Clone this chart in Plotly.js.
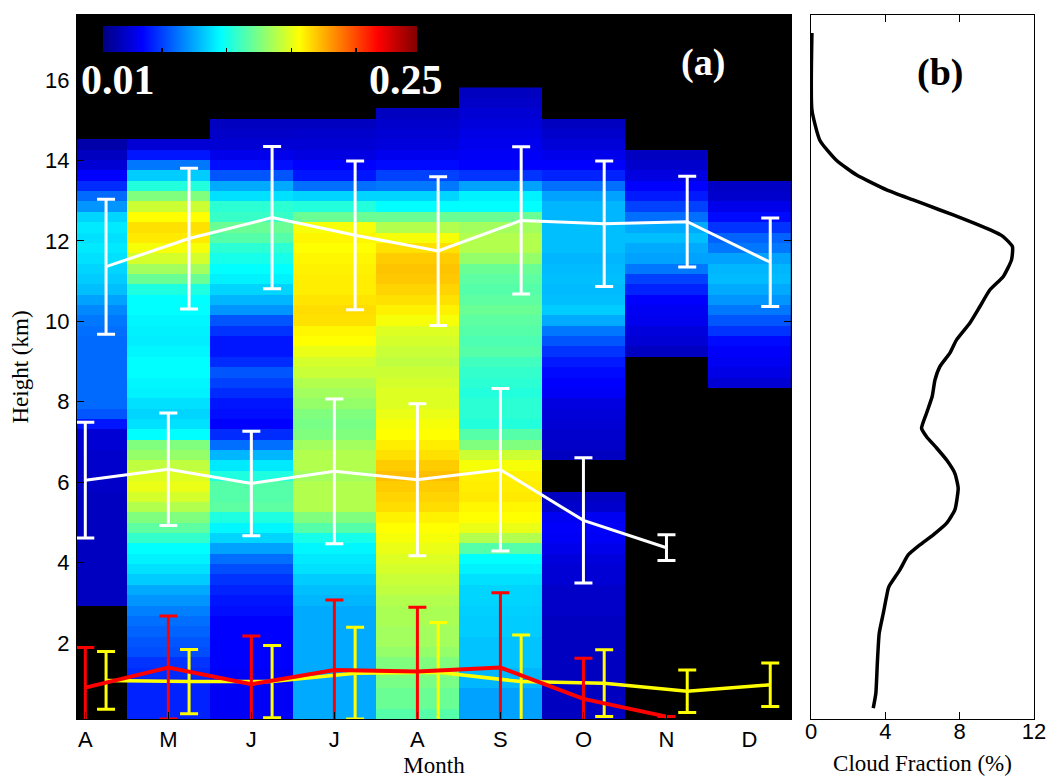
<!DOCTYPE html>
<html>
<head>
<meta charset="utf-8">
<script src="https://cdn.plot.ly/plotly-3.0.1.min.js"></script>
<style>html,body{margin:0;padding:0;background:#fff;}#chart{width:1054px;height:782px;}</style>
</head>
<body>
<div id="chart"></div>
<script>
// ---------- Panel (a): monthly cloud-fraction profiles ----------
const monthLabels = ['A','M','J','J','A','S','O','N','D'];
const monthIdx = [0,1,2,3,4,5,6,7,8];

// height bins (km): lowest bin bottom and bin depth
const binBottom = 0.11;
const binDepth = 0.2575;
const nBins = 61;

// cloud fraction per height bin (index 0 = lowest bin), null = no data
const cfApr = [null,null,null,null,null,null,null,null,null,null,null,
  0.025,0.025,0.025,0.025,0.025,0.025,0.025,0.025,0.025,
  0.025,0.025,0.027,0.027,0.028,0.028,0.03,0.03,
  0.045,0.06,0.065,0.065,0.065,0.065,0.065,0.065,0.065,0.066,0.068,0.072,
  0.078,0.085,0.088,0.09,0.093,0.095,0.093,0.095,0.09,0.075,0.065,0.05,0.04,0.03,0.025,0.02,
  null,null,null,null,null];
const cfMay = [0.048,0.048,0.048,0.048,0.05,0.052,0.058,0.06,0.063,0.066,
  0.07,0.075,0.08,0.088,0.093,0.097,0.1,0.112,0.122,0.13,
  0.142,0.15,0.155,0.152,0.145,0.135,0.13,0.1,0.093,0.09,
  0.093,0.097,0.098,0.1,0.1,0.098,0.096,0.097,0.098,0.1,
  0.1,0.107,0.125,0.138,0.15,0.158,0.165,0.167,0.16,0.148,
  0.13,0.108,0.088,0.068,0.045,0.03,null,null,null,null,null];
const cfJun = [0.038,0.038,0.038,0.038,0.038,0.04,0.04,0.04,0.04,0.04,
  0.043,0.045,0.048,0.052,0.058,0.066,0.078,0.09,0.098,0.107,
  0.122,0.12,0.12,0.107,0.095,0.083,0.066,0.05,0.04,0.043,
  0.045,0.05,0.055,0.06,0.05,0.045,0.045,0.052,0.06,0.075,
  0.083,0.09,0.097,0.1,0.105,0.11,0.12,0.125,0.113,0.11,
  0.093,0.08,0.06,0.043,0.035,0.03,0.027,0.025,null,null,null];
const cfJul = [0.08,0.08,0.08,0.08,0.08,0.08,0.08,0.08,0.08,0.08,
  0.08,0.083,0.085,0.088,0.093,0.095,0.098,0.105,0.12,0.13,
  0.142,0.142,0.142,0.138,0.142,0.142,0.138,0.13,0.128,0.13,
  0.135,0.138,0.142,0.147,0.15,0.155,0.16,0.162,0.167,0.168,
  0.166,0.164,0.164,0.163,0.162,0.16,0.162,0.158,0.125,0.108,
  0.09,0.066,0.045,0.04,0.033,0.03,0.028,0.025,null,null,null];
const cfAug = [0.12,0.125,0.125,0.128,0.13,0.13,0.135,0.138,0.138,0.14,
  0.14,0.142,0.145,0.147,0.15,0.152,0.155,0.158,0.16,0.163,
  0.168,0.17,0.172,0.175,0.172,0.167,0.164,0.16,0.158,0.155,
  0.152,0.152,0.15,0.148,0.145,0.147,0.15,0.152,0.158,0.163,
  0.167,0.17,0.173,0.174,0.172,0.167,0.158,0.142,0.125,0.1,
  0.09,0.068,0.055,0.042,0.036,0.032,0.03,0.028,0.025,null,null];
const cfSep = [0.078,0.078,0.078,0.083,0.083,0.086,0.086,0.086,0.088,0.088,
  0.089,0.09,0.09,0.093,0.097,0.1,0.12,0.142,0.155,0.16,
  0.162,0.165,0.164,0.163,0.158,0.148,0.13,0.12,0.108,0.11,
  0.11,0.108,0.11,0.112,0.115,0.12,0.118,0.12,0.122,0.125,
  0.122,0.12,0.122,0.125,0.135,0.142,0.142,0.138,0.125,0.1,
  0.097,0.078,0.052,0.04,0.038,0.036,0.034,0.032,0.03,0.027,0.025];
const cfOct = [0.025,0.025,0.025,0.025,0.025,0.025,0.025,0.025,0.025,0.025,
  0.027,0.027,0.027,0.03,0.03,0.032,0.035,0.038,0.039,0.037,
  0.028,0.025,null,null,null,0.025,0.027,0.028,0.03,0.031,
  0.033,0.038,0.04,0.042,0.046,0.052,0.06,0.068,0.08,0.088,
  0.085,0.084,0.085,0.084,0.083,0.085,0.085,0.085,0.083,0.083,
  0.078,0.066,0.048,0.04,0.035,0.031,0.028,0.025,null,null,null];
const cfNov = [null,null,null,null,null,null,null,null,null,null,
  null,null,null,null,null,null,null,null,null,null,
  null,null,null,null,null,null,null,null,null,null,
  null,null,null,null,null,0.025,0.03,0.032,0.036,0.037,
  0.04,0.048,0.055,0.068,0.078,0.08,0.085,0.08,0.066,0.055,
  0.046,0.04,0.033,0.028,0.025,null,null,null,null,null,null];
const cfDec = [null,null,null,null,null,null,null,null,null,null,
  null,null,null,null,null,null,null,null,null,null,
  null,null,null,null,null,null,null,null,null,null,
  null,null,0.03,0.034,0.037,0.039,0.042,0.052,0.06,0.068,
  0.075,0.08,0.084,0.083,0.078,0.068,0.063,0.052,0.042,0.035,
  0.028,0.026,null,null,null,null,null,null,null,null,null];

// layer heights (km) with standard deviations
const upperX = [0.25,1.25,2.25,3.25,4.25,5.25,6.25,7.25,8.25];
const upperH = [11.36,12.06,12.58,12.14,11.75,12.51,12.43,12.48,11.47];
const upperSD = [1.68,1.75,1.77,1.85,1.85,1.83,1.56,1.13,1.10];
const middleX = [0,1,2,3,4,5,6,7];
const middleH = [6.05,6.32,5.97,6.27,6.06,6.31,5.05,4.37];
const middleSD = [1.44,1.40,1.30,1.80,1.89,2.02,1.56,0.32];
const lowYellowX = [0.25,1.25,2.25,3.25,4.25,5.25,6.25,7.25,8.25];
const lowYellowH = [1.07,1.04,1.04,1.25,1.27,1.04,1.00,0.80,0.96];
const lowYellowSD = [0.72,0.80,0.90,1.14,1.24,1.16,0.83,0.53,0.54];
const lowRedX = [0,1,2,3,4,5,6,7];
const lowRedH = [0.89,1.39,0.975,1.33,1.29,1.39,0.61,0.17];
const lowRedSD = [1.00,1.28,1.20,1.74,1.60,1.86,1.01,0];

// ---------- Panel (b): mean cloud-fraction profile ----------
const profHeight = [0.38,0.75,1.50,2.24,2.74,3.36,3.45,3.82,4.19,4.44,4.69,4.98,5.31,5.85,6.22,6.55,6.85,7.13,7.34,7.72,8.13,8.54,8.88,9.21,9.54,9.96,10.37,10.78,11.11,11.53,11.86,12.11,12.28,12.52,12.77,13.02,13.27,13.64,14.0,14.5,15.26,17.17];
const profCF = [3.35,3.49,3.57,3.67,3.89,4.16,4.25,4.78,5.23,5.86,6.58,7.3,7.74,7.92,7.74,7.3,6.76,6.22,5.95,6.22,6.52,6.67,6.94,7.47,7.83,8.55,9.09,9.62,10.34,10.79,10.84,10.34,9.62,8.37,6.94,5.5,4.07,2.46,1.38,0.48,0.05,0.05];

// ---------- build ----------
const monthCols = [cfApr,cfMay,cfJun,cfJul,cfAug,cfSep,cfOct,cfNov,cfDec];
const yEdges = [];
for (let i = 0; i <= nBins; i++) yEdges.push(binBottom + i*binDepth);
const z = [];
for (let k = 0; k < nBins; k++) z.push(monthCols.map(c => c[k]));

const jet = [[0,'rgb(0,0,128)'],[0.125,'rgb(0,0,255)'],[0.375,'rgb(0,255,255)'],[0.625,'rgb(255,255,0)'],[0.875,'rgb(255,0,0)'],[1,'rgb(128,0,0)']];

const W = 1054, H = 782;
const ax = {l:77, r:791, t:15, b:719};
const bx = {l:811, r:1034};

const errStyle = (arr, color) => ({type:'data', array:arr, visible:true, color:color, thickness:3, width:9});

const traces = [
  {type:'heatmap', x:monthIdx, y:yEdges, z:z, zmin:0.01, zmax:0.25, colorscale:jet, zsmooth:false,
   hoverinfo:'skip', xaxis:'x', yaxis:'y',
   colorbar:{orientation:'h', x:103/W, xanchor:'left', y:1-26/H, yanchor:'top',
     len:314, lenmode:'pixels', thickness:26, thicknessmode:'pixels',
     outlinewidth:0, xpad:0, ypad:0, showticklabels:false, ticks:'inside', ticklen:4,
     tickcolor:'#000', tickwidth:1.5, tickvals:[0.055,0.1045,0.154,0.2035]}},
  {type:'scatter', mode:'lines', x:upperX, y:upperH, line:{color:'#ffffff', width:3},
   error_y:errStyle(upperSD,'#ffffff'), xaxis:'x', yaxis:'y', hoverinfo:'skip'},
  {type:'scatter', mode:'lines', x:middleX, y:middleH, line:{color:'#ffffff', width:3},
   error_y:errStyle(middleSD,'#ffffff'), xaxis:'x', yaxis:'y', hoverinfo:'skip'},
  {type:'scatter', mode:'lines', x:lowYellowX, y:lowYellowH, line:{color:'#ffff00', width:3.5},
   error_y:errStyle(lowYellowSD,'#ffff00'), xaxis:'x', yaxis:'y', hoverinfo:'skip'},
  {type:'scatter', mode:'lines', x:lowRedX, y:lowRedH, line:{color:'#ff0000', width:4},
   error_y:errStyle(lowRedSD,'#ff0000'), xaxis:'x', yaxis:'y', hoverinfo:'skip'},
  {type:'scatter', mode:'lines', x:profCF, y:profHeight, line:{color:'#000', width:3.5, shape:'spline', smoothing:0.5},
   xaxis:'x2', yaxis:'y2', hoverinfo:'skip'}
];

const tickFont = {family:'Liberation Sans, Arial, sans-serif', size:22, color:'#000'};
const titleFont = {family:'Liberation Serif, Times New Roman, serif', size:23, color:'#000'};
const yDom = [1-ax.b/H, 1-ax.t/H];

const layout = {
  width:W, height:H, margin:{l:0,r:0,t:0,b:0},
  paper_bgcolor:'#fff', plot_bgcolor:'#fff', showlegend:false,
  xaxis:{domain:[ax.l/W, ax.r/W], range:[-0.1,8.5], tickvals:monthIdx, ticktext:monthLabels,
    ticks:'inside', ticklen:7, tickcolor:'#000', showline:true, linecolor:'#000', linewidth:1, mirror:'ticks',
    showgrid:false, zeroline:false, tickfont:tickFont, ticklabelstandoff:1,
    title:{text:'Month', font:titleFont, standoff:5}, anchor:'y'},
  yaxis:{domain:yDom, range:[0.11,17.62], tickvals:[2,4,6,8,10,12,14,16],
    ticks:'inside', ticklen:7, tickcolor:'#000', showline:true, linecolor:'#000', linewidth:1, mirror:'ticks',
    showgrid:false, zeroline:false, tickfont:tickFont, ticklabelstandoff:2,
    title:{text:'Height (km)', font:titleFont, standoff:10}, anchor:'x'},
  xaxis2:{domain:[bx.l/W, bx.r/W], range:[0,12], tickvals:[0,4,8,12],
    ticks:'inside', ticklen:7, tickcolor:'#000', showline:true, linecolor:'#000', linewidth:1, mirror:'ticks',
    showgrid:false, zeroline:false, tickfont:tickFont, ticklabelstandoff:-7,
    title:{text:'Cloud Fraction (%)', font:titleFont, standoff:11}, anchor:'y2'},
  yaxis2:{domain:yDom, range:[0.11,17.62], showticklabels:false, ticks:'',
    showline:true, linecolor:'#000', linewidth:1, mirror:true, showgrid:false, zeroline:false, anchor:'x2'},
  shapes:[{type:'rect', xref:'x domain', yref:'y domain', x0:0, x1:1, y0:0, y1:1,
    fillcolor:'#000', line:{width:0}, layer:'below'}],
  annotations:[
    {text:'<b>0.01</b>', xref:'paper', yref:'paper', x:117.5/W, y:1-80/H, xanchor:'center', yanchor:'middle',
     showarrow:false, font:{family:'Liberation Serif, Times New Roman, serif', size:42, color:'#fff'}},
    {text:'<b>0.25</b>', xref:'paper', yref:'paper', x:405.5/W, y:1-80/H, xanchor:'center', yanchor:'middle',
     showarrow:false, font:{family:'Liberation Serif, Times New Roman, serif', size:42, color:'#fff'}},
    {text:'<b>(a)</b>', xref:'paper', yref:'paper', x:702.5/W, y:1-62/H, xanchor:'center', yanchor:'middle',
     showarrow:false, font:{family:'Liberation Serif, Times New Roman, serif', size:38, color:'#fff'}},
    {text:'<b>(b)</b>', xref:'paper', yref:'paper', x:940/W, y:1-72/H, xanchor:'center', yanchor:'middle',
     showarrow:false, font:{family:'Liberation Serif, Times New Roman, serif', size:38, color:'#000'}}
  ]
};

Plotly.newPlot('chart', traces, layout, {displayModeBar:false, staticPlot:true});
</script>
</body>
</html>
